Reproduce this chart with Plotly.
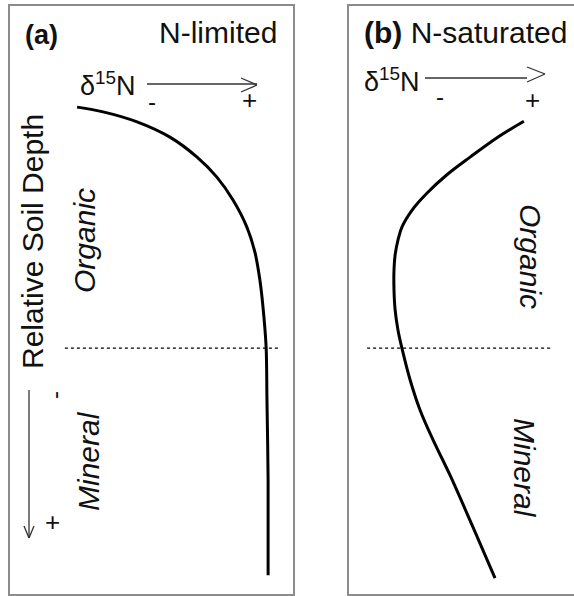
import plotly.graph_objects as go

W, H = 574, 596

# Panel (a) N-limited: relative d15N (x) vs relative soil depth (y, 0 = top)
a_d15n = [23.7, 32.9, 44.9, 56.5, 66.1, 73.1, 78.8, 83.7, 86.6, 88.3, 89.4, 90.5, 90.8, 91.2, 91.2]
a_depth = [17.2, 18.0, 19.7, 22.3, 25.7, 29.1, 33.0, 37.6, 42.0, 46.6, 51.2, 58.0, 67.0, 80.6, 96.8]

# Panel (b) N-saturated
b_d15n = [61.8, 52.3, 42.8, 34.6, 27.6, 22.3, 18.7, 17.3, 16.3, 15.9, 15.9, 16.3, 17.3, 18.7, 21.6,
          25.1, 29.7, 35.7, 43.5, 51.6]
b_depth = [19.6, 22.4, 25.7, 28.7, 31.8, 34.7, 37.6, 39.8, 42.3, 44.9, 48.3, 51.7, 55.1, 58.2, 63.6,
           68.7, 73.8, 79.8, 88.3, 97.3]

# organic / mineral boundary depth, and dotted line extents
boundary_depth = 58.2
a_dot_x = [19.4, 95.4]
b_dot_x = [6.4, 72.1]

FONT = "Liberation Sans, Arial, sans-serif"
BORDER = "#8c8c8c"

def px(x):
    return x / W

def py(y):
    return 1 - y / H

fig = go.Figure()

fig.add_trace(go.Scatter(x=a_d15n, y=a_depth, mode="lines",
                         line=dict(color="black", width=3, shape="spline", smoothing=0.9),
                         xaxis="x", yaxis="y", showlegend=False, hoverinfo="skip"))
fig.add_trace(go.Scatter(x=a_dot_x, y=[boundary_depth] * 2, mode="lines",
                         line=dict(color="black", width=1.3, dash="dot"),
                         xaxis="x", yaxis="y", showlegend=False, hoverinfo="skip"))
fig.add_trace(go.Scatter(x=b_d15n, y=b_depth, mode="lines",
                         line=dict(color="black", width=3, shape="spline", smoothing=1.0),
                         xaxis="x2", yaxis="y2", showlegend=False, hoverinfo="skip"))
fig.add_trace(go.Scatter(x=b_dot_x, y=[boundary_depth] * 2, mode="lines",
                         line=dict(color="black", width=1.3, dash="dot"),
                         xaxis="x2", yaxis="y2", showlegend=False, hoverinfo="skip"))

ax_common = dict(showgrid=False, zeroline=False, showticklabels=False, ticks="",
                 showline=True, linecolor=BORDER, linewidth=2)

fig.update_layout(
    width=W, height=H,
    margin=dict(l=0, r=0, t=0, b=0),
    paper_bgcolor="white", plot_bgcolor="white",
    xaxis=dict(domain=[px(10), px(293)], range=[0, 100], mirror=True, anchor="y", **ax_common),
    yaxis=dict(domain=[py(594), py(6)], range=[100, 0], mirror=True, anchor="x", **ax_common),
    xaxis2=dict(domain=[px(349), 1], range=[0, (574 - 349) / 2.83], mirror=True, anchor="y2", **ax_common),
    yaxis2=dict(domain=[py(594), py(6)], range=[100, 0], mirror=False, anchor="x2", **ax_common),
)

annotations = []

def txt(text, x, y, size=30, angle=0, **kw):
    annotations.append(dict(text=text, x=px(x), y=py(y), xref="paper", yref="paper",
                            showarrow=False, textangle=angle,
                            font=dict(family=FONT, size=size, color="#111"),
                            xanchor="center", yanchor="middle", **kw))

# panel a texts
txt("<b>(a)</b>", 41, 35, size=27)
txt("N-limited", 218, 33, size=30)
txt("δ<sup>15</sup>N", 108, 84, size=27)
txt("-", 152, 101, size=24)
txt("+", 250, 100, size=26)
txt("Relative Soil Depth", 32, 242, size=30, angle=-90)
txt("<i>Organic</i>", 84, 241, size=30, angle=-90)
txt("<i>Mineral</i>", 88, 461, size=30, angle=-90)
txt("-", 54, 395, size=24, angle=-90)
txt("+", 52, 522, size=26)

# panel b texts
txt("<b>(b)</b> N-saturated", 465, 33, size=30)
txt("δ<sup>15</sup>N", 392, 80, size=27)
txt("-", 440, 96, size=24)
txt("+", 532, 100, size=26)
txt("<i>Organic</i>", 531, 256, size=30, angle=90)
txt("<i>Mineral</i>", 525, 468, size=30, angle=90)

fig.update_layout(annotations=annotations)

shapes = []

def seg(x0, y0, x1, y1, color="#333", width=1.3):
    shapes.append(dict(type="line", xref="paper", yref="paper",
                       x0=px(x0), y0=py(y0), x1=px(x1), y1=py(y1),
                       line=dict(color=color, width=width)))

# panel a horizontal arrow
seg(147, 84, 257, 84)
seg(241, 78, 257, 85)
seg(257, 85, 241, 92)
# panel b horizontal arrow
seg(425, 78, 527, 78)
seg(527, 67, 545, 74)
seg(545, 74, 527, 82)
# panel a vertical arrow
seg(29, 390, 29, 538)
seg(24, 526, 29, 538)
seg(29, 538, 34, 526)

fig.update_layout(shapes=shapes)

fig.write_html("out.html", config={"displayModeBar": False},
               post_script="document.body.style.margin='0';document.body.style.padding='0';"
                           "document.body.style.overflow='hidden';")
